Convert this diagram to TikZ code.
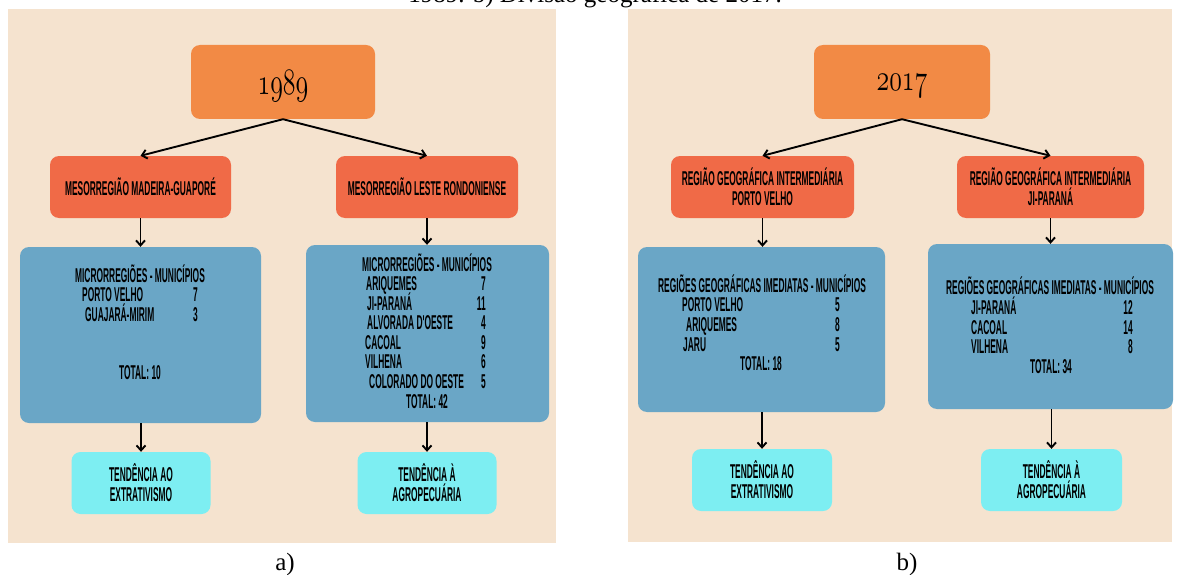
\documentclass[tikz,border=0pt]{standalone}
\usepackage{fontspec}
\usepackage{graphicx}
\setmainfont{Liberation Serif}
\newfontfamily\cond[FakeStretch=0.42]{Liberation Sans Bold}
\usetikzlibrary{arrows.meta}
\definecolor{bgpeach}{HTML}{F5E3CF}
\definecolor{yearor}{HTML}{F28A45}
\definecolor{redbox}{HTML}{F06A47}
\definecolor{bluebox}{HTML}{6AA6C6}
\definecolor{cyanbox}{HTML}{7DEEF2}
\newcommand\lblfont{\cond\fontsize{20}{20}\selectfont}
\newcommand\yearfont{\fontsize{20}{20}\usefont{OML}{cmm}{m}{it}}
\begin{document}
\begin{tikzpicture}[x=1pt,y=-1pt,
  panel/.style={fill=bgpeach,draw=none},
  box/.style={rounded corners=9pt,inner sep=0pt,align=center,font=\lblfont,text=black},
  yearbox/.style={box,fill=yearor,minimum width=184pt,minimum height=74pt},
  yeartxt/.style={inner sep=0pt,text=black},
  mesobox/.style={box,fill=redbox,minimum height=62pt},
  infobox/.style={box,fill=bluebox},
  tendbox/.style={box,fill=cyanbox,minimum width=139pt,minimum height=62pt},
  txt/.style={inner sep=0pt,font=\lblfont,text=black},
  arr/.style={line width=1.9pt,-{Straight Barb[length=5pt,width=9pt,line width=1.9pt]}},
  captxt/.style={inner sep=0pt,font=\fontsize{25}{25}\selectfont}
]
\useasboundingbox (0,0) rectangle (1177,575);
\fill[white] (0,0) rectangle (1177,575);
% caption at the top (cut off)
\node[captxt,anchor=base] (topcap) at (595,2.5) {1989. b) Divisão geográfica de 2017.};
% panels
\fill[panel] (8,9) rectangle (556,543);
\fill[panel] (628,9) rectangle (1172,542);

% ---------- panel a) ----------
\node[yearbox] (year1) at (283,82) {};
\node[yeartxt] (year1t) at ([yshift=-4pt]year1.center) {\scalebox{1.25}[1.8]{\yearfont 1989}};
\node[mesobox,minimum width=181pt] (mL1) at (140.5,187) {MESORREGIÃO MADEIRA-GUAPORÉ};
\node[mesobox,minimum width=182pt] (mR1) at (427,187) {MESORREGIÃO LESTE RONDONIENSE};
\node[infobox,minimum width=241pt,minimum height=176pt] (bL1) at (140.5,335) {};
\node[infobox,minimum width=243pt,minimum height=177pt] (bR1) at (427.5,333.5) {};
\node[tendbox] (cL1) at (141,483) {TENDÊNCIA AO\\EXTRATIVISMO};
\node[tendbox] (cR1) at (427,483) {TENDÊNCIA À\\AGROPECUÁRIA};

\node[txt,anchor=base] (hL1) at (140,282) {MICRORREGIÕES - MUNICÍPIOS};
\node[txt,anchor=base west] (aL1) at (82,301) {PORTO VELHO};
\node[txt,anchor=base east] (anL1) at (198,301) {7};
\node[txt,anchor=base west] (bbL1) at (85,321) {GUAJARÁ-MIRIM};
\node[txt,anchor=base east] (bnL1) at (198,321) {3};
\node[txt,anchor=base] (tL1) at (140,379) {TOTAL: 10};

\node[txt,anchor=base] (hR1) at (427,271) {MICRORREGIÕES - MUNICÍPIOS};
\node[txt,anchor=base west] (r1) at (366,290) {ARIQUEMES};
\node[txt,anchor=base east] (n1) at (486,290) {7};
\node[txt,anchor=base west] (r2) at (367,310) {JI-PARANÁ};
\node[txt,anchor=base east] (n2) at (486,310) {11};
\node[txt,anchor=base west] (r3) at (367,329) {ALVORADA D'OESTE};
\node[txt,anchor=base east] (n3) at (486,329) {4};
\node[txt,anchor=base west] (r4) at (365,349) {CACOAL};
\node[txt,anchor=base east] (n4) at (486,349) {9};
\node[txt,anchor=base west] (r5) at (365,368) {VILHENA};
\node[txt,anchor=base east] (n5) at (486,368) {6};
\node[txt,anchor=base west] (r6) at (369,388) {COLORADO DO OESTE};
\node[txt,anchor=base east] (n6) at (486,388) {5};
\node[txt,anchor=base] (tR1) at (427,408) {TOTAL: 42};

\draw[arr] (year1.south) -- (mL1.north);
\draw[arr] (year1.south) -- (mR1.north);
\draw[arr] (mL1.south) -- (mL1.south |- bL1.north);
\draw[arr] (mR1.south) -- (mR1.south |- bR1.north);
\draw[arr] (bL1.south -| cL1.north) -- (cL1.north);
\draw[arr] (bR1.south -| cR1.north) -- (cR1.north);

\node[captxt,anchor=base] (capa) at (285,570) {a)};

% ---------- panel b) ----------
\node[yearbox,minimum width=176pt] (year2) at (902,82) {};
\node[yeartxt] (year2t) at ([yshift=-4pt]year2.center) {\scalebox{1.25}[1.8]{\yearfont 2017}};
\node[mesobox,minimum width=183pt] (mL2) at (762.5,187) {REGIÃO GEOGRÁFICA INTERMEDIÁRIA\\PORTO VELHO};
\node[mesobox,minimum width=187pt] (mR2) at (1050.5,187) {REGIÃO GEOGRÁFICA INTERMEDIÁRIA\\JI-PARANÁ};
\node[infobox,minimum width=247pt,minimum height=165pt] (bL2) at (761.5,329.5) {};
\node[infobox,minimum width=245pt,minimum height=165pt] (bR2) at (1050.5,326.5) {};
\node[tendbox,minimum width=140pt] (cL2) at (762,480) {TENDÊNCIA AO\\EXTRATIVISMO};
\node[tendbox,minimum width=141pt] (cR2) at (1051.5,480) {TENDÊNCIA À\\AGROPECUÁRIA};

\node[txt,anchor=base] (hL2) at (762,292) {REGIÕES GEOGRÁFICAS IMEDIATAS - MUNICÍPIOS};
\node[txt,anchor=base west] (s1) at (682,311) {PORTO VELHO};
\node[txt,anchor=base east] (m1) at (840,311) {5};
\node[txt,anchor=base west] (s2) at (686,331) {ARIQUEMES};
\node[txt,anchor=base east] (m2) at (840,331) {8};
\node[txt,anchor=base west] (s3) at (683,351) {JARU};
\node[txt,anchor=base east] (m3) at (840,351) {5};
\node[txt,anchor=base] (tL2) at (761,370) {TOTAL: 18};

\node[txt,anchor=base] (hR2) at (1050,294) {REGIÕES GEOGRÁFICAS IMEDIATAS - MUNICÍPIOS};
\node[txt,anchor=base west] (u1) at (971,314) {JI-PARANÁ};
\node[txt,anchor=base east] (k1) at (1133,314) {12};
\node[txt,anchor=base west] (u2) at (971,334) {CACOAL};
\node[txt,anchor=base east] (k2) at (1133,334) {14};
\node[txt,anchor=base west] (u3) at (971,353) {VILHENA};
\node[txt,anchor=base east] (k3) at (1133,353) {8};
\node[txt,anchor=base] (tR2) at (1051,373) {TOTAL: 34};

\draw[arr] (year2.south) -- (mL2.north);
\draw[arr] (year2.south) -- (mR2.north);
\draw[arr] (mL2.south) -- (mL2.south |- bL2.north);
\draw[arr] (mR2.south) -- (mR2.south |- bR2.north);
\draw[arr] (bL2.south -| cL2.north) -- (cL2.north);
\draw[arr] (bR2.south -| cR2.north) -- (cR2.north);

\node[captxt,anchor=base] (capb) at (907,570) {b)};
\end{tikzpicture}
\end{document}
